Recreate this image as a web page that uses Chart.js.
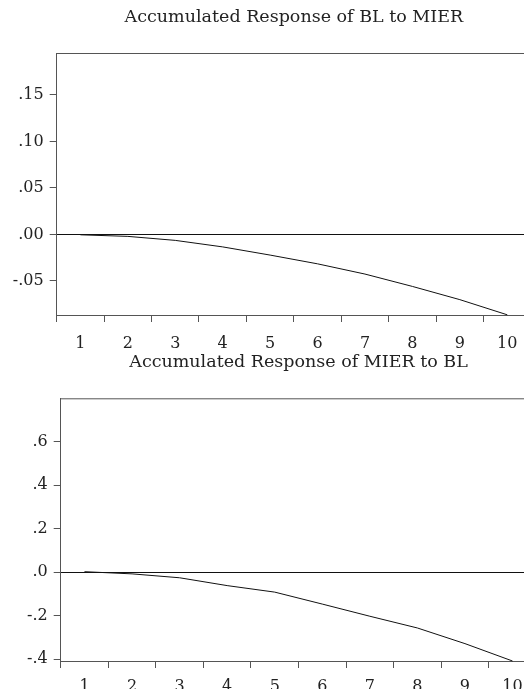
<!DOCTYPE html>
<html>
<head>
<meta charset="utf-8">
<script src="https://cdn.jsdelivr.net/npm/chart.js@4.4.0/dist/chart.umd.min.js"></script>
<style>
  html, body { margin: 0; padding: 0; background: #fff; overflow: hidden; width: 524px; height: 689px; }
  .box { position: absolute; left: 0; width: 545px; }
  #top { top: 0; height: 356px; }
  #bottom { top: 340px; height: 360px; }
</style>
</head>
<body>
<div class="box" id="top"><canvas id="c1"></canvas></div>
<div class="box" id="bottom"><canvas id="c2"></canvas></div>
<script>
const horizons = ['1', '2', '3', '4', '5', '6', '7', '8', '9', '10'];

// Accumulated Response of BL to MIER
const blToMier = [-0.0004, -0.0021, -0.0064, -0.0134, -0.0222, -0.0316, -0.0426, -0.0559, -0.0701, -0.0864];
const blTickValues = [0.15, 0.10, 0.05, 0.00, -0.05];
const blTickLabels = ['.15', '.10', '.05', '.00', '-.05'];

// Accumulated Response of MIER to BL
const mierToBl = [0.002, -0.008, -0.026, -0.062, -0.092, -0.147, -0.203, -0.257, -0.329, -0.409];
const mierTickValues = [0.6, 0.4, 0.2, 0.0, -0.2, -0.4];
const mierTickLabels = ['.6', '.4', '.2', '.0', '-.2', '-.4'];

const FONT = "'DejaVu Serif', 'Liberation Serif', serif";
const AXIS = '#555';

// top edge of the frame
const frameTop = {
  id: 'frameTop',
  afterDraw(chart) {
    const { ctx, chartArea } = chart;
    ctx.save();
    ctx.strokeStyle = AXIS;
    ctx.lineWidth = 1;
    ctx.beginPath();
    ctx.moveTo(chartArea.left, chartArea.top + 0.5);
    ctx.lineTo(chartArea.right, chartArea.top + 0.5);
    ctx.stroke();
    ctx.restore();
  },
};

function makeChart(canvas, cfg) {
  return new Chart(canvas, {
    type: 'line',
    data: {
      labels: horizons,
      datasets: [{
        data: cfg.values,
        borderColor: '#111',
        borderWidth: 1,
        pointRadius: 0,
        tension: 0,
        clip: false,
      }],
    },
    options: {
      responsive: true,
      maintainAspectRatio: false,
      animation: false,
      devicePixelRatio: 1,
      layout: { padding: { top: 0, left: 0, right: cfg.padRight, bottom: 0 } },
      plugins: {
        legend: { display: false },
        tooltip: { enabled: false },
        title: {
          display: true,
          text: cfg.title,
          fullSize: false,
          color: '#222',
          font: { family: FONT, size: 17.5, weight: 'normal', lineHeight: 1.2 },
          padding: { top: cfg.titleTop, bottom: cfg.titleBottom },
        },
      },
      scales: {
        x: {
          type: 'category',
          offset: true,
          border: { display: true, color: AXIS, width: 1 },
          grid: { offset: true, drawOnChartArea: false, drawTicks: true, tickLength: 7, tickColor: AXIS },
          ticks: { color: '#222', font: { family: FONT, size: 16 }, padding: cfg.xPad, maxRotation: 0, autoSkip: false },
          afterFit: (scale) => { scale.height = cfg.xHeight; },
        },
        y: {
          min: cfg.min,
          max: cfg.max,
          border: { display: true, color: AXIS, width: 1 },
          grid: {
            drawOnChartArea: true,
            tickLength: 7,
            tickColor: AXIS,
            color: (ctx) => (ctx.tick && ctx.tick.value === 0 ? '#111' : 'rgba(0,0,0,0)'),
          },
          afterBuildTicks: (scale) => { scale.ticks = cfg.tickValues.map((v) => ({ value: v })); },
          ticks: {
            color: '#222',
            font: { family: FONT, size: 16 },
            padding: 6,
            callback: (value) => {
              const i = cfg.tickValues.findIndex((v) => Math.abs(v - value) < 1e-9);
              return i >= 0 ? cfg.tickLabels[i] : '';
            },
          },
          afterFit: (scale) => { scale.width = cfg.yWidth; },
        },
      },
    },
    plugins: [frameTop],
  });
}

makeChart(document.getElementById('c1'), {
  title: 'Accumulated Response of BL to MIER',
  values: blToMier,
  min: -0.0866,
  max: 0.195,
  tickValues: blTickValues,
  tickLabels: blTickLabels,
  yWidth: 56.7,
  padRight: 14,
  xHeight: 41,
  xPad: 12,
  titleTop: 6.5,
  titleBottom: 25.5,
});

makeChart(document.getElementById('c2'), {
  title: 'Accumulated Response of MIER to BL',
  values: mierToBl,
  min: -0.409,
  max: 0.8,
  tickValues: mierTickValues,
  tickLabels: mierTickLabels,
  yWidth: 60.7,
  padRight: 8.7,
  xHeight: 39,
  xPad: 9,
  titleTop: 11.5,
  titleBottom: 25.8,
});
</script>
</body>
</html>
